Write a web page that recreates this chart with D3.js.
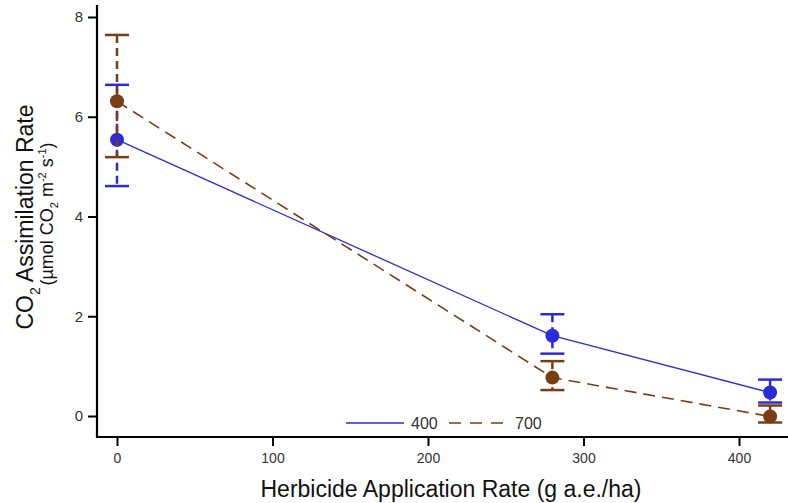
<!doctype html>
<html lang="en">
<head>
  <meta charset="utf-8">
  <title>CO2 assimilation vs herbicide rate</title>
  <style>
    body { margin: 0; background: #fff; }
    svg { font-family: "Liberation Sans", Arial, sans-serif; }
    .tick text { fill: #333; font-size: 14px; }
  </style>
</head>
<body>
  <script src="https://d3js.org/d3.v7.min.js"></script>
  <script>

// herbicide rates (g a.e./ha)
var rates = [0, 280, 420];

// CO2 level 400
var mean400 = [5.54, 1.61, 0.47];
var hi400 = [6.64, 2.04, 0.73];
var lo400 = [4.61, 1.25, 0.27];

// CO2 level 700
var mean700 = [6.31, 0.77, -0.01];
var hi700 = [7.64, 1.10, 0.21];
var lo700 = [5.19, 0.52, -0.13];

var xTicks = [0, 100, 200, 300, 400];
var yTicks = [0, 2, 4, 6, 8];

var series = [
  { name: "400", color: "#2b2bd9", dash: null, mean: mean400, hi: hi400, lo: lo400 },
  { name: "700", color: "#7a3e16", dash: "12,7", mean: mean700, hi: hi700, lo: lo700 }
];

var W = 788, H = 503;
var svg = d3.select("body").append("svg").attr("width", W).attr("height", H);

// scales
var x = d3.scaleLinear().domain([0, 400]).range([117, 739]);
var y = d3.scaleLinear().domain([0, 8]).range([416, 17]);

var axisLeftX = 97, axisBottomY = 437;

// y axis
var gy = svg.append("g").attr("transform", "translate(" + axisLeftX + ",0)")
  .call(d3.axisLeft(y).tickValues(yTicks).tickSize(9).tickPadding(5));
gy.select(".domain").remove();
gy.selectAll(".tick line").attr("stroke", "#000").attr("stroke-width", 2);
gy.selectAll(".tick text").style("font-size", "15px");
svg.append("line").attr("x1", axisLeftX).attr("x2", axisLeftX)
  .attr("y1", 5).attr("y2", axisBottomY + 1)
  .attr("stroke", "#000").attr("stroke-width", 2.2);

// x axis
var gx = svg.append("g").attr("transform", "translate(0," + axisBottomY + ")")
  .call(d3.axisBottom(x).tickValues(xTicks).tickSize(9).tickPadding(7));
gx.select(".domain").remove();
gx.selectAll(".tick line").attr("stroke", "#000").attr("stroke-width", 2);
svg.append("line").attr("x1", axisLeftX - 1).attr("x2", W)
  .attr("y1", axisBottomY).attr("y2", axisBottomY)
  .attr("stroke", "#000").attr("stroke-width", 2.2);

// axis titles
svg.append("text")
  .attr("x", 451).attr("y", 497)
  .attr("text-anchor", "middle")
  .style("font-size", "23px").attr("fill", "#111")
  .text("Herbicide Application Rate (g a.e./ha)");

var yt = svg.append("text")
  .attr("transform", "translate(33,217) rotate(-90)")
  .attr("text-anchor", "middle")
  .style("font-size", "23px").attr("fill", "#111");
yt.append("tspan").text("CO");
yt.append("tspan").attr("dy", 7).style("font-size", "14px").text("2");
yt.append("tspan").attr("dy", -7).text(" Assimilation Rate");

var yt2 = svg.append("text")
  .attr("transform", "translate(53,214) rotate(-90)")
  .attr("text-anchor", "middle")
  .style("font-size", "18px").attr("fill", "#111");
yt2.append("tspan").text("(µmol CO");
yt2.append("tspan").attr("dy", 5).style("font-size", "11px").text("2");
yt2.append("tspan").attr("dy", -5).text(" m");
yt2.append("tspan").attr("dy", -7).style("font-size", "11px").text("-2");
yt2.append("tspan").attr("dy", 7).text(" s");
yt2.append("tspan").attr("dy", -7).style("font-size", "11px").text("-1");
yt2.append("tspan").attr("dy", 7).text(")");

// lines, error bars, points
var line = d3.line().x(function(d) { return x(d.r); }).y(function(d) { return y(d.m); });

series.forEach(function(s) {
  var pts = rates.map(function(r, i) { return { r: r, m: s.mean[i], hi: s.hi[i], lo: s.lo[i] }; });
  var g = svg.append("g");

  g.append("path").datum(pts).attr("d", line)
    .attr("fill", "none").attr("stroke", s.color)
    .attr("stroke-width", s.dash ? 1.6 : 1.3)
    .attr("stroke-dasharray", s.dash);

  g.selectAll(".eb").data(pts).enter().append("line")
    .attr("x1", function(d) { return x(d.r); }).attr("x2", function(d) { return x(d.r); })
    .attr("y1", function(d) { return y(d.hi); }).attr("y2", function(d) { return y(d.lo); })
    .attr("stroke", s.color).attr("stroke-width", 2.5).attr("stroke-dasharray", "8,5");

  ["hi", "lo"].forEach(function(k) {
    g.selectAll(".cap-" + k).data(pts).enter().append("line")
      .attr("x1", function(d) { return x(d.r) - 12; }).attr("x2", function(d) { return x(d.r) + 12; })
      .attr("y1", function(d) { return y(d[k]); }).attr("y2", function(d) { return y(d[k]); })
      .attr("stroke", s.color).attr("stroke-width", 2.5);
  });

  g.selectAll("circle").data(pts).enter().append("circle")
    .attr("cx", function(d) { return x(d.r); }).attr("cy", function(d) { return y(d.m); })
    .attr("r", 7).attr("fill", s.color);
});

// legend
var lg = svg.append("g").attr("transform", "translate(346,423)");
lg.append("line").attr("x1", 0).attr("x2", 58).attr("stroke", series[0].color).attr("stroke-width", 1.3);
lg.append("text").attr("x", 65).attr("y", 6).style("font-size", "16px").attr("fill", "#333").text(series[0].name);
lg.append("line").attr("x1", 103).attr("x2", 157).attr("stroke", series[1].color)
  .attr("stroke-width", 1.6).attr("stroke-dasharray", "12,9");
lg.append("text").attr("x", 169).attr("y", 6).style("font-size", "16px").attr("fill", "#333").text(series[1].name);

  </script>
</body>
</html>
